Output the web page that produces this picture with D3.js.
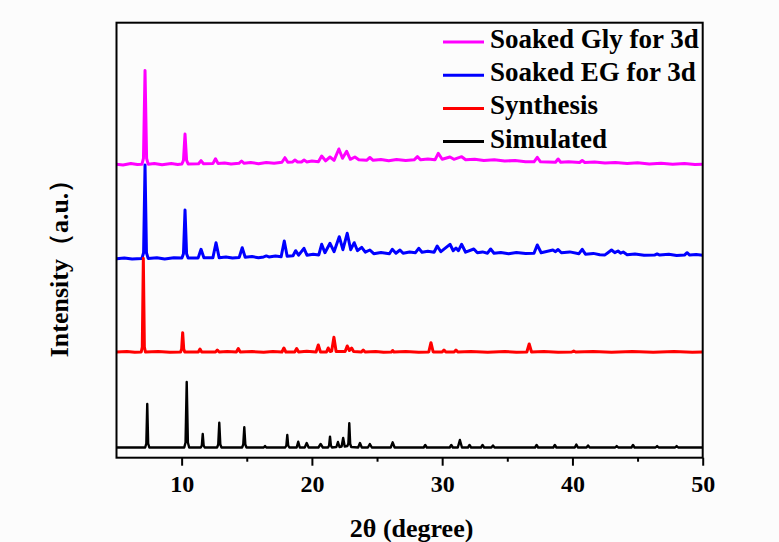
<!DOCTYPE html>
<html>
<head>
<meta charset="utf-8">
<script src="https://cdn.jsdelivr.net/npm/d3@7"></script>
<style>
  body { margin: 0; background: #fcfcfc; }
  svg { display: block; }
  text { font-family: "Times New Roman", "Liberation Serif", serif; font-weight: bold; }
</style>
</head>
<body>
<script>
// XRD patterns, [2theta, intensity above own baseline]
const simulated = [
  [5,0],[7.2,0],[7.29,4],[7.36,43.5],[7.43,4],[7.52,0],
  [10.2,0],[10.3,5],[10.39,65.5],[10.48,5],[10.58,0],
  [11.47,0],[11.55,2],[11.62,13.5],[11.69,2],[11.77,0],
  [12.72,0],[12.81,3],[12.89,24.8],[12.97,3],[13.06,0],
  [14.64,0],[14.73,3],[14.81,20.2],[14.89,3],[14.98,0],
  [16.3,0],[16.4,1.5],[16.5,0],
  [17.95,0],[18.04,2],[18.11,12.5],[18.18,2],[18.27,0],
  [18.83,0],[18.95,5.8],[19.07,0],[19.45,0],[19.6,4.5],[19.75,0],
  [20.5,0],[20.67,3.5],[20.84,0],
  [21.24,0],[21.32,2],[21.39,10.8],[21.46,2],[21.54,0],
  [21.88,0.5],[22.0,5.5],[22.12,0.5],[22.28,1],[22.4,9.5],[22.52,1],[22.72,1.5],[22.8,4],[22.87,24.2],[22.94,3.5],[23.02,0.5],
  [23.55,0],[23.69,4.5],[23.83,0],
  [24.3,0],[24.45,3.5],[24.6,0],
  [26.05,0],[26.2,5.2],[26.35,0],
  [28.58,0],[28.7,2.5],[28.82,0],
  [30.58,0],[30.7,2.5],[30.82,0],
  [31.2,0],[31.36,7.5],[31.52,0],
  [31.98,0],[32.1,2.5],[32.22,0],
  [32.98,0],[33.1,2.5],[33.22,0],
  [33.78,0],[33.9,2],[34.02,0],
  [37.13,0],[37.25,2.5],[37.37,0],
  [38.53,0],[38.65,2.5],[38.77,0],
  [40.18,0],[40.3,3],[40.42,0],
  [41.08,0],[41.2,2],[41.32,0],
  [43.28,0],[43.4,1.5],[43.52,0],
  [44.53,0],[44.65,2.5],[44.77,0],
  [46.38,0],[46.5,1.5],[46.62,0],
  [47.88,0],[48.0,1.5],[48.12,0],
  [50,0]
];

const synthesis = [
  [5,0],[5.8,0.6],[6.4,-0.3],[6.9,0],[6.98,5],[7.06,93.7],[7.14,5],[7.22,0],
  [8.2,0.5],[9.1,-0.3],[9.92,0],[10.0,3],[10.08,19.3],[10.16,3],[10.24,0],
  [11.28,0],[11.41,3],[11.54,0],
  [12.6,0],[12.74,2],[12.88,0],[13.5,0.6],
  [14.2,0],[14.35,3.5],[14.5,0],[15.4,0.5],[16.3,-0.3],[17.0,0.6],
  [17.7,0],[17.85,4],[18.0,0],
  [18.68,0],[18.83,3.5],[18.98,0],[19.6,0.8],
  [20.32,0],[20.49,7],[20.66,0],
  [21.12,0],[21.25,4],[21.4,0.5],[21.52,1],[21.69,14.7],[21.86,0.5],
  [22.55,0.5],[22.71,6],[22.88,1.5],[23.05,4],[23.2,0.5],
  [23.8,0],[23.94,2],[24.08,0],[24.9,0.6],[25.5,-0.2],
  [26.1,0],[26.2,1.5],[26.3,0],[27.2,0.5],[28.2,-0.2],
  [28.97,0],[29.14,9.3],[29.31,0],
  [30.0,0],[30.14,2],[30.28,0],
  [30.92,0],[31.06,2],[31.2,0],[32.2,0.6],[33.5,-0.2],[34.8,0.5],[35.7,-0.2],
  [36.5,0],[36.68,8],[36.86,0],[37.8,0.5],[38.9,-0.2],
  [39.95,0],[40.1,1],[40.25,0],[41.6,0.5],[43.0,-0.3],[44.6,0.5],[46.2,-0.2],[47.8,0.5],[49.2,-0.2],
  [50,0]
];

const soakedEG = [
  [5,0],[5.6,0.8],[6.2,-0.4],[6.95,0.3],[7.08,6],[7.19,93.7],[7.3,6],[7.43,0.3],
  [8.1,1],[8.7,-0.2],[9.4,0.9],[10.02,0.6],[10.14,5],[10.26,48.7],[10.38,5],[10.5,0.7],
  [11.27,0.8],[11.49,9.4],[11.71,0.9],
  [12.4,1],[12.64,16],[12.88,1],[13.4,1.8],[13.9,0.6],
  [14.42,1.3],[14.65,11],[14.88,1.4],[15.4,2.1],[15.9,0.9],
  [16.3,1.8],[16.5,2.8],[16.7,1.8],[17.2,2.6],
  [17.64,2],[17.88,17.7],[18.1,2.5],
  [18.55,3],[18.75,8],[18.98,3.5],[19.39,10.4],[19.62,3.5],[20.1,4.4],
  [20.53,3.8],[20.75,14.4],[21.0,6],[21.39,15.4],[21.7,7],[22.1,22],[22.38,9],[22.71,25.4],[22.98,9],
  [23.25,16],[23.5,8],[23.82,11.4],[24.1,6.5],[24.45,8.7],[24.75,5],[25.3,6.2],
  [25.95,5],[26.17,9.4],[26.45,5.5],[26.76,8.7],[27.0,5.5],[27.5,6.6],
  [27.95,6],[28.2,10.4],[28.45,6.5],[28.9,7.4],
  [29.38,6.5],[29.62,12.7],[29.9,7],[30.6,14.4],[30.85,8],[31.06,10.7],[31.25,8],[31.49,14.4],[31.8,6.5],
  [32.43,9.7],[32.7,6],[33.1,6.8],
  [33.48,5.5],[33.72,9.7],[33.98,5.5],[34.5,6.3],[35.1,5],[35.7,6.2],[36.4,5.2],
  [37.05,5.5],[37.3,13.7],[37.6,6],[38.5,8.7],[38.7,7],[38.9,9.2],[39.15,6],[39.8,6.8],
  [40.5,5],[40.75,9.4],[41.0,4.5],[41.6,5.3],[42.1,4],
  [42.5,3.8],[43.0,8.7],[43.25,6],[43.5,7.7],[43.7,5.5],[43.9,6.7],[44.2,4],[44.8,4.8],[45.5,3.4],
  [46.3,3.6],[46.5,4.8],[46.7,3.6],[47.4,4.4],[48.0,3.2],
  [48.6,3.6],[48.8,6],[49.0,3.6],[49.5,4.2],
  [50,3.5]
];

const soakedGly = [
  [5,0],[5.5,-0.6],[6.1,0.7],[6.6,-0.3],[6.95,0],[7.07,6],[7.19,93.8],[7.31,6],[7.43,0.1],
  [7.9,0.8],[8.5,-0.4],[9.2,0.7],[9.7,-0.2],
  [10.02,0.3],[10.14,4],[10.26,30.3],[10.38,4],[10.5,0.4],
  [11.3,0.5],[11.49,3.6],[11.68,0.6],
  [12.4,0.7],[12.6,5.6],[12.8,0.7],[13.3,1.4],[13.8,0.3],
  [14.4,1],[14.6,3.3],[14.8,1],[15.3,1.7],[15.9,0.6],[16.5,1.9],[17.1,1.1],
  [17.7,2],[17.93,6.6],[18.15,2],
  [18.5,2.2],[18.7,4.3],[18.9,2.3],[19.2,2.3],[19.4,4.3],[19.6,2.4],[20.0,3.2],
  [20.5,2.6],[20.75,8.3],[21.05,3.5],[21.39,7.3],[21.7,4],[22.07,15.3],[22.35,6],[22.67,13],[22.95,5],
  [23.3,7.3],[23.6,4.5],
  [24.2,4],[24.45,6.8],[24.7,4],[25.3,4.9],[25.9,3.6],[26.5,4.8],[27.2,3.9],
  [27.85,4.5],[28.1,7.6],[28.35,4.5],[28.9,5.3],
  [29.45,4.5],[29.7,11],[30.0,5],[30.6,7.3],[30.9,5],[31.5,7.6],[31.8,4.5],
  [32.5,5.1],[33.2,3.8],[34.0,4.5],[34.8,3.2],[35.6,3.9],[36.4,2.6],
  [37.05,2.5],[37.3,7],[37.55,2.5],
  [38.7,2],[38.9,5.3],[39.1,2],[39.7,2.6],
  [40.55,1.8],[40.75,3.8],[40.95,1.8],[41.7,2.3],[42.5,1.2],[43.3,1.8],[44.2,0.8],
  [45.0,1.5],[45.9,0.4],[46.8,1.1],[47.7,0.1],[48.6,0.8],[49.4,-0.2],
  [50,0]
];

// stacking offsets (a.u.) and legend, top to bottom
const seriesNames = ["Soaked Gly for 3d", "Soaked EG for 3d", "Synthesis", "Simulated"];
const seriesData = [soakedGly, soakedEG, synthesis, simulated];
const seriesOffsets = [293.4, 199, 105.7, 10.2];
const seriesColors = ["#ff00ff", "#0000ff", "#ff0000", "#000000"];

const majorTicks = [10, 20, 30, 40, 50];
const minorTicks = [15, 25, 35, 45];

const W = 779, H = 542;
const margin = { top: 22.7, right: 76.3, bottom: 84.3, left: 116.5 };
const iw = W - margin.left - margin.right,
      ih = H - margin.top - margin.bottom;

const x = d3.scaleLinear().domain([5, 50]).range([0, iw]);
const y = d3.scaleLinear().domain([0, 435]).range([ih, 0]);

const svg = d3.select("body").append("svg")
    .attr("width", W)
    .attr("height", H);

const g = svg.append("g")
    .attr("transform", "translate(" + margin.left + "," + margin.top + ")");

// patterns
seriesData.forEach(function (d, i) {
  const line = d3.line()
      .x(function (p) { return x(p[0]); })
      .y(function (p) { return y(p[1] + seriesOffsets[i]); });
  g.append("path")
      .datum(d)
      .attr("fill", "none")
      .attr("stroke", seriesColors[i])
      .attr("stroke-width", i == 3 ? 2.4 : 3)
      .attr("stroke-linejoin", "round")
      .attr("d", line);
});

// x axis
const xAxis = g.append("g")
    .attr("transform", "translate(0," + ih + ")")
    .call(d3.axisBottom(x).tickValues(majorTicks).tickSize(8).tickPadding(9));
xAxis.select(".domain").remove();
xAxis.selectAll("line").attr("stroke", "#000").attr("stroke-width", 2);
xAxis.selectAll("text")
    .attr("fill", "#000")
    .style("font-size", "24px")
    .style("font-family", "'Times New Roman', 'Liberation Serif', serif");

g.append("g")
    .attr("transform", "translate(0," + ih + ")")
    .call(d3.axisBottom(x).tickValues(minorTicks).tickSize(4).tickFormat(""))
    .call(function (a) { a.select(".domain").remove(); })
    .selectAll("line").attr("stroke", "#000").attr("stroke-width", 2);

// frame
g.append("rect")
    .attr("width", iw)
    .attr("height", ih)
    .attr("fill", "none")
    .attr("stroke", "#000")
    .attr("stroke-width", 2);

// titles
svg.append("text")
    .attr("x", margin.left + iw / 2 + 2)
    .attr("y", 537)
    .attr("text-anchor", "middle")
    .style("font-size", "26px")
    .text("2θ (degree)");

svg.append("text")
    .attr("transform", "translate(68,262) rotate(-90)")
    .attr("text-anchor", "middle")
    .style("font-size", "26px")
    .text("Intensity（a.u.）");

// legend
const legend = svg.append("g").attr("transform", "translate(443,48)");
seriesNames.forEach(function (name, i) {
  const row = legend.append("g").attr("transform", "translate(0," + (i * 33.2) + ")");
  row.append("line")
      .attr("x1", 0).attr("x2", 41)
      .attr("y1", -6).attr("y2", -6)
      .attr("stroke", seriesColors[i])
      .attr("stroke-width", 3);
  row.append("text")
      .attr("x", 47)
      .attr("y", 0)
      .style("font-size", "27px")
      .text(name);
});
</script>
</body>
</html>
